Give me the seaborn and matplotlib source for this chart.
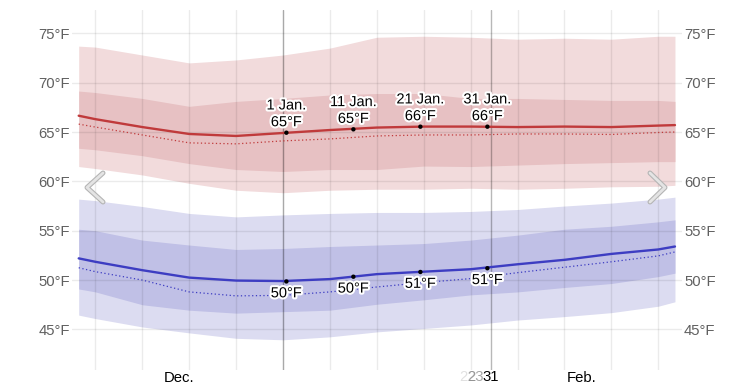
import numpy as np
import pandas as pd
import matplotlib
matplotlib.use("Agg")
import matplotlib.pyplot as plt
import matplotlib.patheffects as pe
from matplotlib.lines import Line2D
import seaborn as sns

# ---------------- data (days relative to 1 Jan) ----------------
days = [-30.5, -28, -21, -14, -7, 0, 7, 14, 21, 28, 35, 42, 49, 56, 58.5]

hi_p90 = [73.7, 73.6, 72.8, 72.0, 72.3, 72.8, 73.5, 74.6, 74.7, 74.6, 74.4, 74.5, 74.4, 74.7, 74.7]
hi_p75 = [69.15, 69.0, 68.4, 67.6, 68.1, 68.4, 68.75, 68.9, 68.9, 68.4, 68.4, 68.3, 68.2, 68.2, 68.1]
hi_avg = [66.65, 66.3, 65.5, 64.8, 64.6, 64.9, 65.2, 65.45, 65.55, 65.55, 65.5, 65.55, 65.5, 65.65, 65.7]
hi_med = [65.8, 65.5, 64.7, 63.9, 63.8, 64.1, 64.3, 64.6, 64.7, 64.7, 64.8, 64.8, 64.75, 64.95, 65.0]
hi_p25 = [63.35, 63.2, 62.6, 61.8, 61.2, 61.0, 61.2, 61.2, 61.55, 61.5, 61.65, 61.8, 61.9, 62.0, 62.0]
hi_p10 = [61.5, 61.3, 60.65, 59.8, 59.1, 58.85, 59.1, 59.2, 59.2, 59.3, 59.2, 59.3, 59.45, 59.5, 59.6]

lo_p90 = [58.2, 58.05, 57.45, 56.75, 56.4, 56.6, 56.75, 56.85, 56.85, 56.95, 57.15, 57.5, 57.8, 58.2, 58.4]
lo_p75 = [55.15, 55.0, 54.05, 53.55, 53.1, 53.2, 53.4, 53.55, 53.7, 54.05, 54.55, 55.15, 55.45, 55.9, 56.1]
lo_avg = [52.2, 51.85, 51.0, 50.25, 49.95, 49.9, 50.1, 50.6, 50.85, 51.1, 51.6, 52.05, 52.65, 53.1, 53.4]
lo_med = [51.25, 50.85, 50.0, 48.8, 48.4, 48.45, 48.8, 49.3, 49.75, 50.15, 50.75, 51.3, 51.85, 52.45, 52.85]
lo_p25 = [49.1, 48.8, 47.5, 46.95, 46.65, 46.8, 46.95, 47.55, 48.0, 48.5, 48.8, 49.25, 49.65, 50.35, 50.7]
lo_p10 = [46.45, 46.1, 45.25, 44.65, 44.1, 43.95, 44.25, 44.75, 45.1, 45.45, 45.95, 46.3, 46.7, 47.35, 47.8]

pt_days = [0.5, 10.5, 20.5, 30.5]
pt_labels = ["1 Jan.", "11 Jan.", "21 Jan.", "31 Jan."]
pt_hi = [64.93, 65.27, 65.54, 65.54]
pt_lo = [49.86, 50.34, 50.82, 51.2]
pt_hi_txt = ["65°F", "65°F", "66°F", "66°F"]
pt_lo_txt = ["50°F", "50°F", "51°F", "51°F"]

y_ticks = [45, 50, 55, 60, 65, 70, 75]
y_tick_labels = ["45°F", "50°F", "55°F", "60°F", "65°F", "70°F", "75°F"]

month_pos = [-15.5, 44.5]
month_labels = ["Dec.", "Feb."]
ghost_pos = [27.5, 28.7, 31.0]
ghost_labels = ["22", "23", "31"]
ghost_alpha = [0.12, 0.35, 1.0]

week_lines = [-28, -21, -14, -7, 0, 7, 14, 21, 28, 35, 42, 49, 56]
month_lines = [0, 31]

# ---------------- style ----------------
sns.set_style("white")
plt.rcParams["font.family"] = ["Liberation Sans", "DejaVu Sans"]

W, H = 753, 387
fig = plt.figure(figsize=(W / 100, H / 100), dpi=100)
ax = fig.add_axes([72 / W, 1 - 370 / H, 610 / W, 360 / H])

red_outer, red_inner, red_line = "#F2DBDC", "#E7C1C3", "#C03A3B"
blue_outer, blue_inner, blue_line = "#DCDCF1", "#C0C0E6", "#3D3DC2"

df = pd.DataFrame({"day": days, "hi_avg": hi_avg, "hi_med": hi_med,
                   "lo_avg": lo_avg, "lo_med": lo_med})

ax.fill_between(days, hi_p10, hi_p90, color=red_outer, lw=0, zorder=1)
ax.fill_between(days, hi_p25, hi_p75, color=red_inner, lw=0, zorder=1.1)
ax.fill_between(days, lo_p10, lo_p90, color=blue_outer, lw=0, zorder=1)
ax.fill_between(days, lo_p25, lo_p75, color=blue_inner, lw=0, zorder=1.1)

# grid lines
for v in y_ticks:
    ax.axhline(v, color=(0, 0, 0, 0.08), lw=1, zorder=1.5)
for d in week_lines:
    ax.axvline(d, color=(0, 0, 0, 0.08), lw=1, zorder=1.5)
for d in month_lines:
    ax.axvline(d, color=(0, 0, 0, 0.28), lw=1, zorder=1.6)

sns.lineplot(data=df, x="day", y="hi_med", ax=ax, color=red_line, lw=0.9,
             linestyle=(0, (1, 2)), zorder=2)
sns.lineplot(data=df, x="day", y="lo_med", ax=ax, color=blue_line, lw=0.9,
             linestyle=(0, (1, 2)), zorder=2)
sns.lineplot(data=df, x="day", y="hi_avg", ax=ax, color=red_line, lw=1.7, zorder=3)
sns.lineplot(data=df, x="day", y="lo_avg", ax=ax, color=blue_line, lw=1.7, zorder=3)

sns.scatterplot(x=pt_days, y=pt_hi, ax=ax, color="black", s=10, edgecolor="none", zorder=5)
sns.scatterplot(x=pt_days, y=pt_lo, ax=ax, color="black", s=10, edgecolor="none", zorder=5)

halo = [pe.withStroke(linewidth=3, foreground="white")]
for d, v, lab, t in zip(pt_days, pt_hi, pt_labels, pt_hi_txt):
    ax.annotate(f"{lab}\n{t}", (d, v), xytext=(0, 2.5), textcoords="offset points",
                ha="center", va="bottom", fontsize=10.5, linespacing=1.25,
                color="black", path_effects=halo, zorder=6)
for d, v, t in zip(pt_days, pt_lo, pt_lo_txt):
    ax.annotate(t, (d, v), xytext=(0, -3.5), textcoords="offset points",
                ha="center", va="top", fontsize=10.5,
                color="black", path_effects=halo, zorder=6)

ax.set_xlim(-31.5, 59.55)
ax.set_ylim(40.89, 77.36)
ax.set_yticks(y_ticks)
ax.set_yticklabels(y_tick_labels)
ax.tick_params(axis="y", length=0, pad=1.5, labelsize=10.7, labelcolor="#606060",
               labelright=True, right=False)

ax.set_xticks(month_pos)
ax.set_xticklabels(month_labels)
ax.tick_params(axis="x", length=0, pad=0.5, labelsize=10.7, labelcolor="black")
for d, lab, a in zip(ghost_pos, ghost_labels, ghost_alpha):
    ax.text(d, -0.0, lab, transform=ax.get_xaxis_transform(), ha="center", va="top",
            fontsize=10.7, color="black", alpha=a)

ax.set_xlabel("")
ax.set_ylabel("")
for s in ax.spines.values():
    s.set_visible(False)

# navigation chevrons (pixel coords)
def chevron(pts):
    xs = [p[0] / W for p in pts]
    ys = [1 - p[1] / H for p in pts]
    fig.add_artist(Line2D(xs, ys, transform=fig.transFigure, color="#B5B5B5", lw=3.6,
                          solid_capstyle="round", solid_joinstyle="round", zorder=10))
    fig.add_artist(Line2D(xs, ys, transform=fig.transFigure, color="#E4E4E4", lw=2.0,
                          solid_capstyle="round", solid_joinstyle="round", zorder=11))

chevron([(103, 173), (87, 187.5), (103, 202)])
chevron([(650, 173), (665, 187.5), (650, 202)])

fig.savefig("out.png", dpi=100)
